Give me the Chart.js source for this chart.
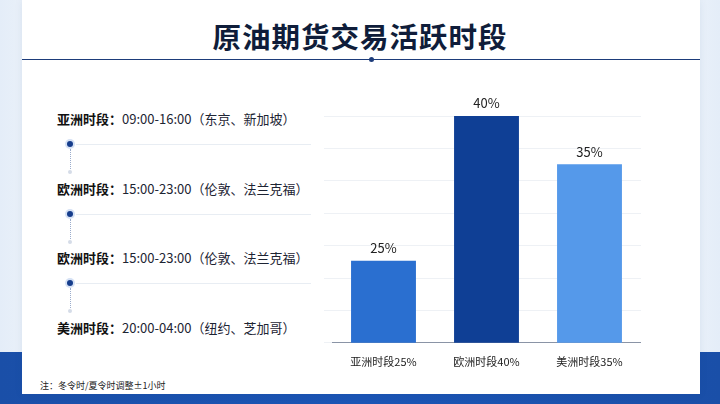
<!DOCTYPE html>
<html lang="zh">
<head>
<meta charset="UTF-8" />
<title>原油期货交易活跃时段</title>
<script src="https://cdn.jsdelivr.net/npm/chart.js@4.4.0/dist/chart.umd.min.js"></script>
<style>
  body { margin:0; width:720px; height:404px; overflow:hidden; font-family:"Noto Sans CJK SC","Noto Sans",sans-serif;
    background:linear-gradient(90deg,#e4edf8 0%,#f7f9fc 12%,#ffffff 50%,#f7f9fc 88%,#e4edf8 100%); position:relative; }
  .band { position:absolute; left:0; right:0; top:352px; height:52px; background:linear-gradient(90deg,#1a4fa8,#1b55b5 50%,#1a4fa8); }
  .card { position:absolute; left:22px; top:0; width:678px; height:394px; background:#fff; box-shadow:0 0 8px rgba(30,60,120,0.08); }
  h1 { position:absolute; left:0; width:720px; top:15px; margin:0; text-align:center; font-size:28.5px; font-weight:700; color:#0f1d3a; letter-spacing:1px; }
  .rule { position:absolute; left:22px; width:678px; top:59px; height:1px; background:#1d3c7a; }
  .rdot { position:absolute; left:369px; top:57px; width:5px; height:5px; border-radius:50%; background:#1d3c7a; }
  .item { position:absolute; left:57px; font-size:13px; color:#1d2433; white-space:nowrap; }
  .item b { font-weight:700; color:#111; }
  .dot { position:absolute; left:67px; width:6px; height:6px; border-radius:50%; background:#163d8c; box-shadow:0 0 0 2px #d6e2f5; }
  .hl { position:absolute; left:76px; width:235px; height:1px; background:#e8edf3; }
  .vl { position:absolute; left:69.5px; width:0; height:20px; border-left:1px dotted #9aaccc; }
  .sd { position:absolute; left:68px; width:4px; height:4px; border-radius:50%; background:#d5dce8; }
  .note { position:absolute; left:40px; top:379px; font-size:9px; color:#222; }
  #wrap { position:absolute; left:324px; top:88px; width:317px; height:284px; }
</style>
</head>
<body>
<div class="band"></div>
<div class="card"></div>
<h1>原油期货交易活跃时段</h1>
<div class="rule"></div><div class="rdot"></div>
<div id="list"></div>
<div class="note">注：冬令时/夏令时调整±1小时</div>
<div id="wrap"><canvas id="c"></canvas></div>
<script>
const sessionNames = ['亚洲时段', '欧洲时段', '欧洲时段', '美洲时段'];
const sessionHours = ['09:00-16:00（东京、新加坡）', '15:00-23:00（伦敦、法兰克福）', '15:00-23:00（伦敦、法兰克福）', '20:00-04:00（纽约、芝加哥）'];
const categories = ['亚洲时段25%', '欧洲时段40%', '美洲时段35%'];
const shares = [25, 40, 35];
const barColors = ['#2a6fd0', '#0f3f95', '#5599ea'];

// left list
const list = document.getElementById('list');
sessionNames.forEach((n, i) => {
  const top = 109 + i * 69.5;
  list.insertAdjacentHTML('beforeend', `<div class="item" style="top:${top}px"><b>${n}：</b>${sessionHours[i]}</div>`);
  if (i < sessionNames.length - 1) {
    const d = top + 32;
    list.insertAdjacentHTML('beforeend',
      `<div class="dot" style="top:${d}px"></div><div class="hl" style="top:${d + 3}px"></div>` +
      `<div class="vl" style="top:${d + 8}px"></div><div class="sd" style="top:${d + 29}px"></div>`);
  }
});

const valueLabels = {
  id: 'valueLabels',
  afterDatasetsDraw(chart) {
    const ctx = chart.ctx;
    ctx.save();
    ctx.font = '13px "Noto Sans CJK SC", sans-serif';
    ctx.fillStyle = '#222';
    ctx.textAlign = 'center';
    ctx.textBaseline = 'bottom';
    chart.getDatasetMeta(0).data.forEach((bar, i) => {
      ctx.fillText(shares[i] + '%', bar.x, bar.y - 6);
    });
    ctx.restore();
  }
};

new Chart(document.getElementById('c'), {
  type: 'bar',
  data: { labels: categories, datasets: [{ data: shares, backgroundColor: barColors, categoryPercentage: 0.63, barPercentage: 1 }] },
  options: {
    responsive: true, maintainAspectRatio: false, animation: false,
    layout: { padding: { top: 28, left: 0, right: 0 } },
    plugins: { legend: { display: false }, tooltip: { enabled: false } },
    scales: {
      x: {
        grid: { display: false },
        border: { color: '#8a94a6' },
        ticks: { color: '#222', font: { size: 11, family: '"Noto Sans CJK SC", sans-serif' }, padding: 4 }
      },
      y: {
        min: 16.5, max: 40,
        afterBuildTicks(axis) {
          axis.ticks = [];
          for (let k = 0; k <= 7; k++) axis.ticks.push({ value: 16.5 + k * 23.5 / 7 });
        },
        ticks: { display: false },
        border: { display: false },
        grid: { color: '#eef1f5' }
      }
    }
  },
  plugins: [valueLabels]
});
</script>
</body>
</html>
